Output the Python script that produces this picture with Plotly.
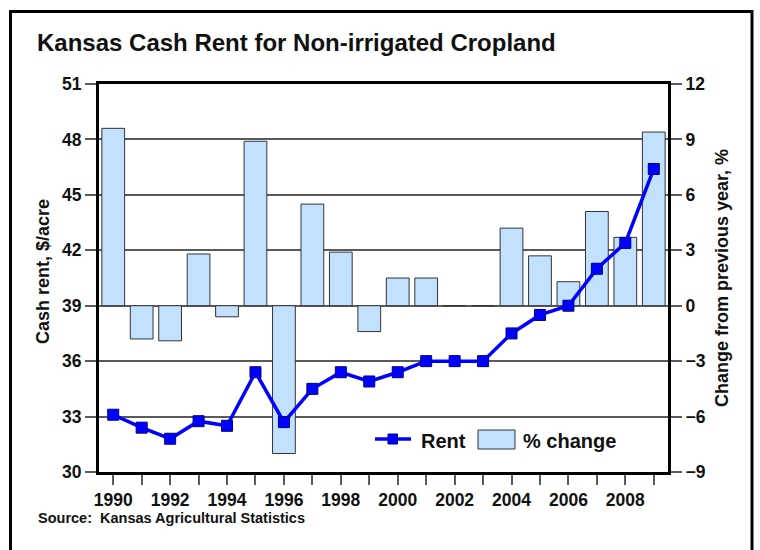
import plotly.graph_objects as go

# Kansas cash rent for non-irrigated cropland, 1990-2009
years = list(range(1990, 2010))
rent = [33.1, 32.4, 31.8, 32.75, 32.5, 35.4, 32.7, 34.5, 35.4, 34.9,
        35.4, 36.0, 36.0, 36.0, 37.5, 38.5, 39.0, 41.0, 42.4, 46.4]
pct_change = [9.6, -1.8, -1.9, 2.8, -0.6, 8.9, -8.0, 5.5, 2.9, -1.4,
              1.5, 1.5, 0.0, 0.0, 4.2, 2.7, 1.3, 5.1, 3.7, 9.4]
year_labels = [str(y) if y % 2 == 0 else "" for y in years]

FONT = "Liberation Sans, Arial, sans-serif"
BAR_FILL = "#C2E1FF"
BLUE = "#0000FF"
GRID = "#5a5a5a"

# plot-area geometry in pixels (used to place decorations in paper units)
W, H = 760, 550
L, R, T, B = 99, 668, 84, 472


def px(x):
    return (x - L) / (R - L)


def py(y):
    return (B - y) / (B - T)


fig = go.Figure()

fig.add_trace(go.Bar(
    x=years, y=pct_change, name="% change", yaxis="y",
    marker=dict(color=BAR_FILL, line=dict(color="#333333", width=1)),
    showlegend=False,
))

fig.add_trace(go.Scatter(
    x=years, y=rent, name="Rent", yaxis="y2", mode="lines+markers",
    line=dict(color=BLUE, width=3.5),
    marker=dict(symbol="square", size=11, color=BLUE,
                line=dict(color="#000080", width=1)),
    showlegend=False,
))

tick_font = dict(family=FONT, size=17.5, color="#111111", weight="bold")

fig.update_layout(
    width=W, height=H,
    margin=dict(l=L, r=W - R, t=T, b=H - B),
    paper_bgcolor="white", plot_bgcolor="white",
    bargap=0.2,
    title=dict(text="Kansas Cash Rent for Non-irrigated Cropland",
               x=37 / W, xanchor="left", y=1 - 43 / H, yanchor="middle",
               font=dict(family=FONT, size=24, color="#111111", weight="bold")),
    xaxis=dict(
        range=[1989.5, 2009.5], tickmode="array", tickvals=years,
        ticktext=year_labels, ticks="outside", ticklen=10, tickwidth=1.5,
        tickcolor=GRID, showline=True, linecolor="black", linewidth=3,
        mirror=True, showgrid=False, zeroline=False, tickfont=tick_font,
    ),
    yaxis=dict(
        side="right", range=[-9, 12], tick0=0, dtick=3,
        ticks="outside", ticklen=11, tickwidth=1.5, tickcolor=GRID,
        showline=True, linecolor="black", linewidth=3,
        showgrid=True, gridcolor=GRID, gridwidth=1.5, zeroline=False,
        tickfont=tick_font,
    ),
    yaxis2=dict(
        overlaying="y", side="left", range=[30, 51], tick0=30, dtick=3,
        ticks="outside", ticklen=11, tickwidth=1.5, tickcolor=GRID,
        showline=True, linecolor="black", linewidth=3,
        showgrid=False, zeroline=False, tickfont=tick_font,
    ),
)

axis_title_font = dict(family=FONT, size=18, color="#111111", weight="bold")
label_font = dict(family=FONT, size=20, color="#111111", weight="bold")

annotations = [
    dict(text="Cash rent, $/acre", x=px(43), y=py(272), textangle=-90,
         xanchor="center", yanchor="middle", font=axis_title_font),
    dict(text="Change from previous year, %", x=px(722), y=py(278),
         textangle=-90, xanchor="center", yanchor="middle",
         font=axis_title_font),
    dict(text="Source:  Kansas Agricultural Statistics", x=px(36),
         y=py(518), xanchor="left", yanchor="middle",
         font=dict(family=FONT, size=14.5, color="#111111", weight="bold")),
    dict(text="Rent", x=px(419), y=py(441), xanchor="left",
         yanchor="middle", font=label_font),
    dict(text="% change", x=px(521), y=py(441), xanchor="left",
         yanchor="middle", font=label_font),
]
for a in annotations:
    a.update(xref="paper", yref="paper", showarrow=False)
fig.update_layout(annotations=annotations)

shapes = [
    # outer frame
    dict(type="rect", x0=px(10.5), x1=px(752), y0=py(11.5), y1=py(570),
         line=dict(color="black", width=3), fillcolor="rgba(0,0,0,0)"),
    # legend key: rent line with square marker
    dict(type="line", x0=px(375), x1=px(411), y0=py(439), y1=py(439),
         line=dict(color=BLUE, width=3.5)),
    dict(type="rect", x0=px(388), x1=px(397.5), y0=py(434), y1=py(444),
         fillcolor=BLUE, line=dict(color="#000080", width=1)),
    # legend key: % change box
    dict(type="rect", x0=px(478), x1=px(515), y0=py(430), y1=py(449),
         fillcolor=BAR_FILL, line=dict(color="#333333", width=1)),
]
for s in shapes:
    s.update(xref="paper", yref="paper")
fig.update_layout(shapes=shapes)

fig.write_html("out.html")
